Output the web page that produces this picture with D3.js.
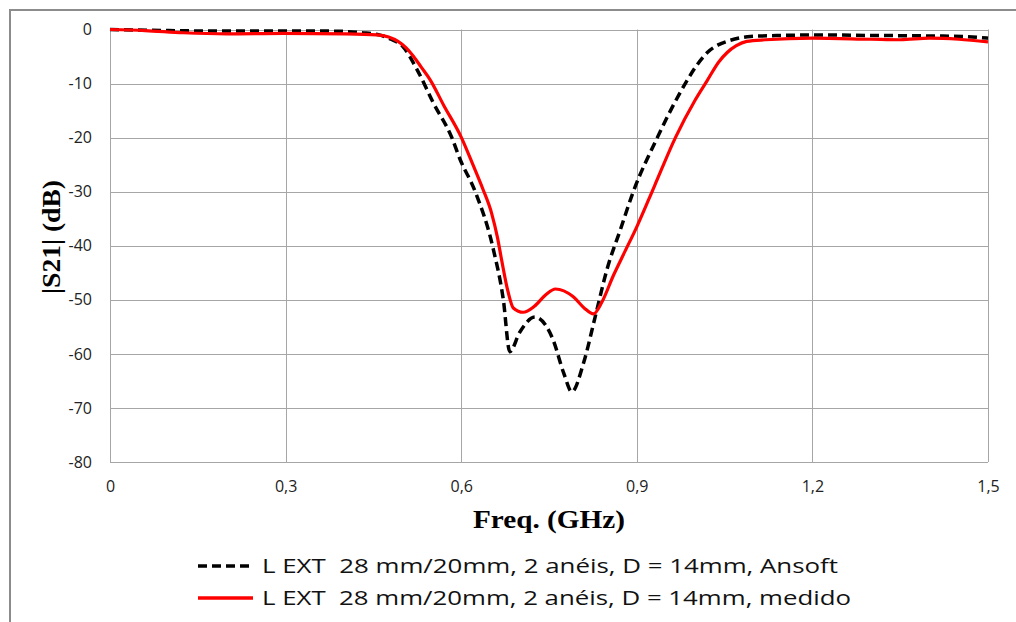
<!DOCTYPE html>
<html><head><meta charset="utf-8">
<script src="https://cdn.jsdelivr.net/npm/d3@7"></script>
<style>body{margin:0;background:#fff}svg{display:block}</style>
</head><body>
<script>
// Data
const xTicks = [0, 0.3, 0.6, 0.9, 1.2, 1.5];
const yTicks = [0, -10, -20, -30, -40, -50, -60, -70, -80];
const seriesNames = [
  "L EXT  28 mm/20mm, 2 anéis, D = 14mm, Ansoft",
  "L EXT  28 mm/20mm, 2 anéis, D = 14mm, medido"
];
const ansoftF = [0, 0.1, 0.2, 0.3, 0.38, 0.43, 0.46, 0.48, 0.5, 0.525, 0.552, 0.584, 0.598, 0.624, 0.655, 0.672, 0.683, 0.7, 0.726, 0.745, 0.757, 0.775, 0.789, 0.809, 0.829, 0.849, 0.872, 0.894, 0.935, 0.96, 0.985, 1.0, 1.02, 1.04, 1.054, 1.094, 1.15, 1.2, 1.3, 1.407, 1.46, 1.5];
const ansoftDb = [0, -0.2, -0.3, -0.3, -0.3, -0.6, -1.0, -1.8, -3.1, -7.5, -13.5, -20, -24, -30, -40.7, -50, -59.6, -56, -53.2, -54.8, -57.4, -63.5, -67, -61.7, -53.1, -44.4, -37, -30, -20, -14.5, -9.6, -7, -4.3, -2.8, -2.2, -1.3, -1.1, -1, -1.1, -1.2, -1.3, -1.6];
const medidoF = [0, 0.06, 0.125, 0.2, 0.296, 0.4, 0.456, 0.476, 0.492, 0.506, 0.518, 0.532, 0.547, 0.57, 0.6, 0.62, 0.637, 0.652, 0.662, 0.669, 0.68, 0.689, 0.706, 0.725, 0.745, 0.761, 0.791, 0.81, 0.826, 0.84, 0.86, 0.88, 0.9, 0.93, 0.966, 1.0, 1.02, 1.04, 1.054, 1.07, 1.088, 1.12, 1.2, 1.3, 1.35, 1.4, 1.45, 1.5];
const medidoDb = [0, -0.2, -0.6, -0.8, -0.7, -0.8, -1.0, -1.4, -2.2, -3.4, -4.9, -7, -9.3, -14, -19.9, -25, -29.5, -34, -38.5, -42.6, -48.5, -51.5, -52.3, -51.2, -49, -48, -49.4, -51.5, -52.6, -50.5, -45.5, -41, -36.5, -29, -20, -13, -9.5, -6, -4.3, -3, -2.2, -1.9, -1.6, -1.8, -1.9, -1.6, -1.8, -2.3];

const W = 1016, H = 622;
const svg = d3.select("body").append("svg").attr("width", W).attr("height", H);

// outer frame
svg.append("rect").attr("x", 10).attr("y", 10).attr("width", 1100).attr("height", 700)
  .attr("fill", "none").attr("stroke", "#8c8c8c").attr("stroke-width", 2);

const x = d3.scaleLinear().domain([0, 1.5]).range([110, 988]);
const y = d3.scaleLinear().domain([-80, 0]).range([462, 29.5]);

const g = svg.append("g");
// grid
g.selectAll("line.hg").data(yTicks).join("line")
  .attr("x1", x(0)).attr("x2", x(1.5))
  .attr("y1", d => Math.round(y(d)) + 0.5).attr("y2", d => Math.round(y(d)) + 0.5)
  .attr("stroke", "#a6a6a6").attr("stroke-width", 1);
g.selectAll("line.vg").data(xTicks).join("line")
  .attr("y1", y(0)).attr("y2", y(-80))
  .attr("x1", d => Math.round(x(d)) + 0.5).attr("x2", d => Math.round(x(d)) + 0.5)
  .attr("stroke", "#a6a6a6").attr("stroke-width", 1);

// axes (labels only)
const yAxis = d3.axisLeft(y).tickValues(yTicks).tickSize(0).tickPadding(18).tickFormat(d => String(d));
const ya = svg.append("g").attr("transform", `translate(${x(0)},0)`).call(yAxis);
ya.select(".domain").remove();
ya.selectAll("text").attr("font-family", "Open Sans, sans-serif").attr("font-size", 16).attr("fill", "#222");

const fmt = d => d === 0 ? "0" : d.toFixed(1).replace(".", ",");
const xAxis = d3.axisBottom(x).tickValues(xTicks).tickSize(0).tickPadding(19).tickFormat(fmt);
const xa = svg.append("g").attr("transform", `translate(0,${y(-80)})`).call(xAxis);
xa.select(".domain").remove();
xa.selectAll("text").attr("font-family", "Open Sans, sans-serif").attr("font-size", 16).attr("fill", "#222");

// axis titles
svg.append("text").attr("x", 549).attr("y", 528).attr("text-anchor", "middle")
  .attr("font-family", "Liberation Serif, serif").attr("font-weight", "bold").attr("font-size", 25)
  .attr("textLength", 152).attr("lengthAdjust", "spacingAndGlyphs")
  .text("Freq. (GHz)");
svg.append("text").attr("transform", "translate(60,237) rotate(-90)").attr("text-anchor", "middle")
  .attr("font-family", "Liberation Serif, serif").attr("font-weight", "bold").attr("font-size", 25)
  .attr("textLength", 114).attr("lengthAdjust", "spacingAndGlyphs")
  .text("|S21| (dB)");

const line = d3.line().x(d => x(d[0])).y(d => y(d[1])).curve(d3.curveMonotoneX);
const ansoft = ansoftF.map((f, i) => [f, ansoftDb[i]]);
const medido = medidoF.map((f, i) => [f, medidoDb[i]]);

svg.append("path").datum(ansoft).attr("d", line).attr("fill", "none")
  .attr("stroke", "#000").attr("stroke-width", 3.5).attr("stroke-dasharray", "9,5");
svg.append("path").datum(medido).attr("d", line).attr("fill", "none")
  .attr("stroke", "#ff0000").attr("stroke-width", 3.2);

// legend
const leg = svg.append("g");
const items = [
  {name: seriesNames[0], color: "#000", dash: "9,5", y: 566, len: 576},
  {name: seriesNames[1], color: "#ff0000", dash: null, y: 598, len: 589}
];
items.forEach(it => {
  leg.append("line").attr("x1", 198).attr("x2", 253).attr("y1", it.y).attr("y2", it.y)
    .attr("stroke", it.color).attr("stroke-width", 3.5).attr("stroke-dasharray", it.dash);
  leg.append("text").attr("x", 262).attr("y", it.y + 7)
    .attr("font-family", "Open Sans, sans-serif").attr("font-size", 20).attr("fill", "#111")
    .attr("textLength", it.len).attr("lengthAdjust", "spacingAndGlyphs")
    .style("white-space", "pre").text(it.name);
});
</script>
</body></html>
